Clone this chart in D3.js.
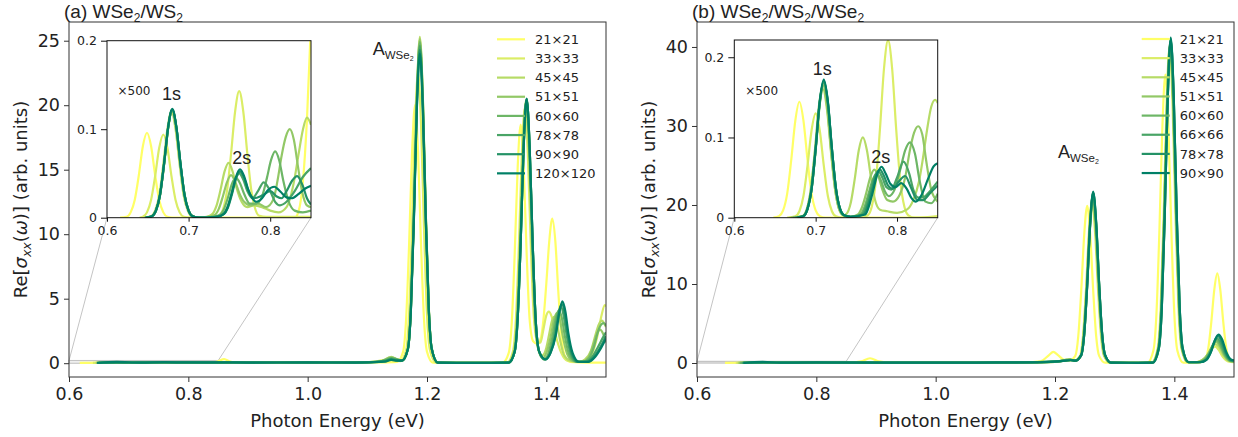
<!DOCTYPE html>
<html lang="en">
<head>
<meta charset="UTF-8">
<title>Re sigma_xx spectra</title>
<script src="https://cdn.jsdelivr.net/npm/d3@7"></script>
<style>
  body { margin: 0; background: #fff; }
  svg text { font-family: "DejaVu Sans", sans-serif; fill: #222; }
  svg .ann { font-family: "Liberation Sans", Arial, sans-serif; }
</style>
</head>
<body>
<svg width="1238" height="437"></svg>
<script>
// ---------- data ----------
var sizesA = ["21×21", "33×33", "45×45", "51×51", "60×60", "78×78", "90×90", "120×120"];
var sizesB = ["21×21", "33×33", "45×45", "51×51", "60×60", "66×66", "78×78", "90×90"];
var xTicks = [0.6, 0.8, 1.0, 1.2, 1.4];
var yTicksA = [0, 5, 10, 15, 20, 25];
var yTicksB = [0, 10, 20, 30, 40];
var insetXTicks = [0.6, 0.7, 0.8];
var insetYTicks = [0, 0.1, 0.2];

// panel (a) WSe2/WS2, main spectra [energy eV, Re sigma]
var a_21 = [[0.618,0.02],[0.70,0.04],[0.78,0.03],[0.84,0.05],[0.85,0.15],[0.86,0.32],[0.87,0.12],[0.88,0.04],[0.95,0.05],[1.05,0.04],[1.12,0.06],[1.15,0.1],
  [1.16,0.9],[1.165,3.4],[1.17,9.2],[1.175,16.4],[1.18,20],[1.185,16.4],[1.19,9.2],[1.195,3.4],[1.20,0.9],[1.21,0.05],[1.27,0.03],[1.32,0.04],
  [1.327,0.05],[1.337,0.8],[1.342,3.1],[1.347,8.5],[1.352,15.2],[1.357,18.5],[1.362,15.2],[1.367,8.5],[1.372,3.4],[1.378,1.7],[1.385,1.5],[1.39,1.8],
  [1.395,3.3],[1.40,6.2],[1.405,9.5],[1.41,11.2],[1.415,9.5],[1.42,5.6],[1.425,2.3],[1.43,0.7],[1.44,0.1],[1.47,0.05],[1.5,0.05]];
var a_33 = [[0.64,0.02],[0.70,0.06],[0.76,0.05],[0.82,0.07],[0.90,0.05],[1.0,0.06],[1.10,0.07],[1.14,0.3],[1.155,0.15],
  [1.165,1.0],[1.17,3.8],[1.175,10.4],[1.18,18.5],[1.185,22.5],[1.19,18.5],[1.195,10.4],[1.20,3.8],[1.205,1.0],[1.215,0.05],[1.28,0.03],
  [1.334,0.05],[1.344,0.9],[1.349,3.4],[1.354,9.1],[1.359,16.2],[1.364,19.8],[1.369,16.2],[1.374,9.1],[1.379,3.6],[1.385,1.6],[1.39,1.6],
  [1.395,2.6],[1.40,3.7],[1.404,4.0],[1.409,3.6],[1.415,2.3],[1.425,0.8],[1.435,0.2],[1.45,0.1],[1.465,0.2],[1.475,0.6],[1.485,2.0],[1.492,3.6],[1.498,4.5],[1.5,4.4]];
var a_45 = [[0.645,0.03],[0.70,0.06],[0.75,0.04],[0.80,0.07],[0.85,0.05],[0.95,0.06],[1.05,0.05],[1.12,0.1],[1.14,0.5],[1.15,0.3],[1.158,0.2],
  [1.168,1.1],[1.173,4.3],[1.178,11.6],[1.183,20.7],[1.188,25.3],[1.193,20.7],[1.198,11.6],[1.203,4.3],[1.208,1.1],[1.218,0.05],[1.28,0.02],
  [1.336,0.05],[1.346,0.9],[1.351,3.5],[1.356,9.3],[1.361,16.6],[1.366,20.3],[1.371,16.6],[1.376,9.3],[1.381,3.5],[1.387,1.0],[1.393,0.6],
  [1.40,1.2],[1.405,2.3],[1.409,3.2],[1.413,3.6],[1.418,3.0],[1.423,1.8],[1.43,0.6],[1.44,0.2],[1.455,0.1],[1.465,0.3],[1.475,1.0],[1.483,2.3],[1.488,3.0],[1.493,3.3],[1.498,3.0],[1.5,2.8]];
var a_51 = [[0.645,0.03],[0.71,0.07],[0.76,0.04],[0.81,0.06],[0.88,0.05],[0.97,0.06],[1.06,0.05],[1.12,0.1],[1.14,0.45],[1.15,0.3],[1.158,0.2],
  [1.168,1.1],[1.173,4.3],[1.178,11.5],[1.183,20.6],[1.188,25.1],[1.193,20.6],[1.198,11.5],[1.203,4.3],[1.208,1.1],[1.218,0.05],[1.28,0.02],
  [1.336,0.05],[1.346,0.9],[1.351,3.5],[1.356,9.4],[1.361,16.7],[1.366,20.4],[1.371,16.7],[1.376,9.4],[1.381,3.5],[1.387,1.0],[1.394,0.4],
  [1.40,0.8],[1.407,2.0],[1.413,3.4],[1.418,3.9],[1.423,3.3],[1.428,2.0],[1.435,0.7],[1.445,0.15],[1.46,0.1],[1.47,0.4],[1.478,1.3],[1.485,2.3],[1.49,2.6],[1.495,2.3],[1.5,1.6]];
var a_60 = [[0.648,0.03],[0.70,0.05],[0.76,0.06],[0.82,0.04],[0.90,0.06],[1.0,0.05],[1.08,0.06],[1.12,0.1],[1.14,0.4],[1.15,0.3],[1.158,0.2],
  [1.168,1.1],[1.173,4.2],[1.178,11.5],[1.183,20.4],[1.188,24.9],[1.193,20.4],[1.198,11.5],[1.203,4.2],[1.208,1.1],[1.218,0.05],[1.28,0.02],
  [1.337,0.05],[1.347,0.9],[1.352,3.5],[1.357,9.4],[1.362,16.7],[1.367,20.4],[1.372,16.7],[1.377,9.4],[1.382,3.5],[1.388,0.9],[1.396,0.3],
  [1.403,0.7],[1.41,2.0],[1.416,3.5],[1.421,4.1],[1.426,3.5],[1.431,2.1],[1.438,0.7],[1.448,0.15],[1.462,0.1],[1.472,0.4],[1.48,1.3],[1.487,2.5],[1.492,3.0],[1.496,3.1],[1.5,2.9]];
var a_78 = [[0.65,0.03],[0.72,0.07],[0.78,0.05],[0.84,0.07],[0.92,0.05],[1.02,0.06],[1.10,0.07],[1.13,0.2],[1.14,0.35],[1.15,0.25],[1.158,0.2],
  [1.168,1.1],[1.173,4.2],[1.178,11.3],[1.183,20.2],[1.188,24.6],[1.193,20.2],[1.198,11.3],[1.203,4.2],[1.208,1.1],[1.218,0.05],[1.28,0.02],
  [1.337,0.05],[1.347,0.9],[1.352,3.5],[1.357,9.4],[1.362,16.8],[1.367,20.5],[1.372,16.8],[1.377,9.4],[1.382,3.5],[1.388,0.9],[1.397,0.3],
  [1.405,0.7],[1.413,2.1],[1.419,3.7],[1.424,4.4],[1.429,3.7],[1.434,2.2],[1.441,0.7],[1.451,0.1],[1.465,0.1],[1.477,0.5],[1.487,1.3],[1.495,2.0],[1.5,2.4]];
var a_90 = [[0.65,0.03],[0.70,0.05],[0.77,0.07],[0.83,0.05],[0.91,0.06],[1.0,0.05],[1.09,0.06],[1.13,0.15],[1.14,0.3],[1.15,0.2],[1.158,0.2],
  [1.168,1.1],[1.173,4.1],[1.178,11.2],[1.183,19.9],[1.188,24.3],[1.193,19.9],[1.198,11.2],[1.203,4.1],[1.208,1.1],[1.218,0.05],[1.28,0.02],
  [1.337,0.05],[1.347,0.9],[1.352,3.5],[1.357,9.4],[1.362,16.8],[1.367,20.5],[1.372,16.8],[1.377,9.4],[1.382,3.5],[1.388,0.9],[1.398,0.3],
  [1.406,0.7],[1.415,2.1],[1.421,3.8],[1.426,4.6],[1.431,3.8],[1.436,2.2],[1.443,0.7],[1.453,0.1],[1.468,0.1],[1.48,0.5],[1.49,1.2],[1.5,2.1]];
var a_120 = [[0.647,0.03],[0.68,0.1],[0.72,0.05],[0.76,0.08],[0.80,0.06],[0.85,0.07],[0.90,0.05],[1.0,0.06],[1.08,0.05],[1.13,0.12],[1.14,0.25],[1.15,0.2],[1.158,0.2],
  [1.168,1.1],[1.173,4.1],[1.178,11.0],[1.183,19.7],[1.188,24.0],[1.193,19.7],[1.198,11.0],[1.203,4.1],[1.208,1.1],[1.218,0.05],[1.28,0.02],
  [1.337,0.05],[1.347,0.9],[1.352,3.5],[1.357,9.4],[1.362,16.8],[1.367,20.5],[1.372,16.8],[1.377,9.4],[1.382,3.5],[1.388,0.9],[1.399,0.3],
  [1.407,0.8],[1.416,2.2],[1.422,4.0],[1.427,4.8],[1.432,4.0],[1.437,2.3],[1.444,0.8],[1.455,0.1],[1.47,0.1],[1.482,0.5],[1.492,1.2],[1.5,1.9]];

// panel (a) inset, x500
var ai_21 = [[0.616,0],[0.624,0.001],[0.629,0.006],[0.634,0.02],[0.639,0.048],[0.644,0.081],[0.649,0.096],[0.654,0.081],[0.659,0.048],[0.664,0.02],[0.669,0.006],[0.674,0.001],[0.68,0],
  [0.83,0],[0.835,0.008],[0.84,0.04],[0.845,0.11],[0.85,0.22]];
var ai_33 = [[0.64,0],[0.644,0.001],[0.649,0.006],[0.654,0.02],[0.659,0.047],[0.664,0.079],[0.669,0.094],[0.674,0.079],[0.679,0.047],[0.684,0.02],[0.689,0.006],[0.694,0.001],[0.70,0],
  [0.73,0],[0.737,0.002],[0.742,0.009],[0.747,0.03],[0.752,0.072],[0.757,0.12],[0.762,0.143],[0.767,0.12],[0.772,0.072],[0.777,0.03],[0.782,0.009],[0.787,0.002],[0.795,0.001],[0.85,0.001]];
var ai_45 = [[0.645,0],[0.654,0.0016],[0.659,0.008],[0.664,0.025],[0.669,0.06],[0.674,0.1],[0.679,0.12],[0.684,0.1],[0.689,0.06],[0.694,0.025],[0.699,0.008],[0.704,0.0016],[0.712,0],
  [0.722,0.001],[0.729,0.004],[0.734,0.013],[0.739,0.031],[0.744,0.052],[0.749,0.062],[0.754,0.052],[0.759,0.033],[0.765,0.018],[0.772,0.012],[0.78,0.014],[0.79,0.012],[0.80,0.008],
  [0.81,0.006],[0.82,0.012],[0.825,0.024],[0.83,0.045],[0.835,0.073],[0.84,0.099],[0.845,0.113],[0.85,0.105]];
var ai_51 = [[0.646,0],[0.655,0.0016],[0.66,0.008],[0.665,0.025],[0.67,0.06],[0.675,0.101],[0.68,0.121],[0.685,0.101],[0.69,0.06],[0.695,0.025],[0.70,0.008],[0.705,0.0016],[0.713,0],
  [0.725,0.001],[0.732,0.003],[0.737,0.01],[0.742,0.024],[0.747,0.04],[0.752,0.048],[0.757,0.041],[0.762,0.028],[0.768,0.018],[0.776,0.014],[0.785,0.016],[0.795,0.012],
  [0.804,0.021],[0.809,0.042],[0.814,0.07],[0.819,0.091],[0.824,0.1],[0.829,0.088],[0.834,0.058],[0.839,0.03],[0.845,0.014],[0.85,0.012]];
var ai_60 = [[0.647,0],[0.655,0.0016],[0.66,0.008],[0.665,0.026],[0.67,0.061],[0.675,0.102],[0.68,0.122],[0.685,0.102],[0.69,0.061],[0.695,0.026],[0.70,0.008],[0.705,0.0016],[0.713,0],
  [0.73,0.001],[0.738,0.003],[0.743,0.009],[0.748,0.022],[0.753,0.038],[0.758,0.045],[0.763,0.039],[0.768,0.027],[0.775,0.016],[0.783,0.016],[0.79,0.024],[0.796,0.045],
  [0.801,0.065],[0.806,0.075],[0.811,0.065],[0.816,0.042],[0.822,0.02],[0.83,0.008],[0.84,0.006],[0.85,0.008]];
var ai_78 = [[0.648,0],[0.655,0.0016],[0.66,0.008],[0.665,0.026],[0.67,0.061],[0.675,0.102],[0.68,0.122],[0.685,0.102],[0.69,0.061],[0.695,0.026],[0.70,0.008],[0.705,0.0016],[0.713,0],
  [0.733,0.001],[0.742,0.004],[0.747,0.011],[0.752,0.025],[0.757,0.042],[0.762,0.05],[0.767,0.043],[0.772,0.03],[0.778,0.022],[0.785,0.03],[0.792,0.04],[0.799,0.032],
  [0.806,0.018],[0.812,0.014],[0.82,0.018],[0.83,0.03],[0.84,0.046],[0.85,0.056]];
var ai_90 = [[0.65,0],[0.655,0.0016],[0.66,0.008],[0.665,0.026],[0.67,0.061],[0.675,0.102],[0.68,0.122],[0.685,0.102],[0.69,0.061],[0.695,0.026],[0.70,0.008],[0.705,0.0016],[0.713,0],
  [0.734,0.001],[0.743,0.004],[0.748,0.011],[0.753,0.026],[0.758,0.044],[0.763,0.052],[0.768,0.045],[0.773,0.031],[0.78,0.022],[0.79,0.025],[0.80,0.03],[0.808,0.024],
  [0.814,0.022],[0.82,0.03],[0.827,0.042],[0.833,0.047],[0.84,0.036],[0.845,0.022],[0.85,0.015]];
var ai_120 = [[0.647,0],[0.655,0.0016],[0.66,0.008],[0.665,0.026],[0.67,0.062],[0.675,0.103],[0.68,0.123],[0.685,0.103],[0.69,0.062],[0.695,0.026],[0.70,0.008],[0.705,0.0016],[0.713,0],
  [0.735,0.001],[0.743,0.004],[0.748,0.012],[0.753,0.028],[0.758,0.046],[0.763,0.0546],[0.768,0.047],[0.773,0.032],[0.778,0.022],[0.783,0.018],[0.79,0.022],[0.797,0.031],
  [0.805,0.035],[0.813,0.029],[0.82,0.023],[0.826,0.022],[0.835,0.027],[0.843,0.033],[0.85,0.036]];

// panel (b) WSe2/WS2/WSe2, main spectra
var b_21 = [[0.647,0.02],[0.70,0.04],[0.78,0.03],[0.86,0.05],[0.875,0.2],[0.89,0.6],[0.905,0.2],[0.92,0.05],[1.0,0.04],[1.08,0.05],[1.15,0.08],[1.175,0.2],
  [1.19,1.0],[1.197,1.4],[1.205,1.0],[1.215,0.4],[1.224,0.3],
  [1.234,0.9],[1.239,3.4],[1.244,9.2],[1.249,16.3],[1.254,19.9],[1.259,16.3],[1.264,9.2],[1.269,3.4],[1.274,0.9],[1.284,0.05],[1.33,0.03],
  [1.355,0.05],[1.365,1.6],[1.37,6.2],[1.375,16.8],[1.38,29.9],[1.385,36.5],[1.39,29.9],[1.395,16.8],[1.40,6.2],[1.405,1.6],[1.415,0.05],[1.44,0.05],
  [1.452,0.5],[1.457,1.9],[1.462,5.2],[1.467,9.3],[1.472,11.35],[1.477,9.3],[1.482,5.2],[1.487,1.9],[1.492,0.5],[1.5,0.1]];
var b_33 = [[0.665,0.02],[0.72,0.05],[0.80,0.04],[0.88,0.06],[0.96,0.05],[1.05,0.06],[1.14,0.07],[1.20,0.15],[1.225,0.4],[1.232,0.3],
  [1.242,0.9],[1.247,3.5],[1.252,9.4],[1.257,16.7],[1.262,20.4],[1.267,16.7],[1.272,9.4],[1.277,3.5],[1.282,0.9],[1.292,0.05],[1.34,0.03],
  [1.362,0.05],[1.372,1.8],[1.377,6.8],[1.382,18.4],[1.387,32.8],[1.392,40.0],[1.397,32.8],[1.402,18.4],[1.407,6.8],[1.412,1.8],[1.422,0.1],
  [1.435,0.1],[1.445,0.3],[1.455,0.9],[1.462,1.7],[1.468,2.1],[1.474,1.7],[1.481,0.8],[1.49,0.2],[1.5,0.1]];
var b_45 = [[0.668,0.02],[0.72,0.06],[0.79,0.04],[0.87,0.05],[0.95,0.06],[1.04,0.05],[1.13,0.07],[1.20,0.15],[1.225,0.45],[1.233,0.3],
  [1.243,0.9],[1.248,3.5],[1.253,9.5],[1.258,17.0],[1.263,20.7],[1.268,17.0],[1.273,9.5],[1.278,3.5],[1.283,0.9],[1.293,0.05],[1.34,0.03],
  [1.363,0.05],[1.373,1.8],[1.378,6.8],[1.383,18.5],[1.388,33.0],[1.393,40.2],[1.398,33.0],[1.403,18.5],[1.408,6.8],[1.413,1.8],[1.423,0.1],
  [1.437,0.1],[1.447,0.4],[1.456,1.1],[1.463,2.0],[1.469,2.4],[1.475,2.0],[1.482,1.0],[1.491,0.3],[1.5,0.15]];
var b_51 = [[0.67,0.02],[0.73,0.05],[0.80,0.06],[0.88,0.04],[0.97,0.06],[1.06,0.05],[1.14,0.08],[1.20,0.15],[1.225,0.45],[1.233,0.3],
  [1.243,0.9],[1.248,3.6],[1.253,9.7],[1.258,17.2],[1.263,21.0],[1.268,17.2],[1.273,9.7],[1.278,3.6],[1.283,0.9],[1.293,0.05],[1.34,0.03],
  [1.363,0.05],[1.373,1.8],[1.378,6.9],[1.383,18.6],[1.388,33.1],[1.393,40.4],[1.398,33.1],[1.403,18.6],[1.408,6.9],[1.413,1.8],[1.423,0.1],
  [1.438,0.1],[1.448,0.4],[1.457,1.2],[1.464,2.2],[1.47,2.7],[1.476,2.2],[1.483,1.1],[1.492,0.3],[1.5,0.2]];
var b_60 = [[0.672,0.02],[0.74,0.06],[0.81,0.04],[0.89,0.06],[0.98,0.05],[1.07,0.06],[1.15,0.08],[1.205,0.2],[1.226,0.4],[1.234,0.3],
  [1.244,1.0],[1.249,3.6],[1.254,9.8],[1.259,17.4],[1.264,21.2],[1.269,17.4],[1.274,9.8],[1.279,3.6],[1.284,1.0],[1.294,0.05],[1.34,0.03],
  [1.363,0.05],[1.373,1.8],[1.378,6.9],[1.383,18.7],[1.388,33.3],[1.393,40.6],[1.398,33.3],[1.403,18.7],[1.408,6.9],[1.413,1.8],[1.423,0.1],
  [1.44,0.1],[1.45,0.4],[1.458,1.2],[1.465,2.3],[1.471,2.9],[1.477,2.3],[1.484,1.1],[1.493,0.3],[1.5,0.2]];
var b_66 = [[0.675,0.02],[0.73,0.05],[0.80,0.07],[0.87,0.05],[0.96,0.06],[1.05,0.05],[1.14,0.07],[1.205,0.2],[1.226,0.4],[1.234,0.3],
  [1.244,1.0],[1.249,3.7],[1.254,9.9],[1.259,17.6],[1.264,21.5],[1.269,17.6],[1.274,9.9],[1.279,3.7],[1.284,1.0],[1.294,0.05],[1.34,0.03],
  [1.364,0.05],[1.374,1.8],[1.379,6.9],[1.384,18.8],[1.389,33.5],[1.394,40.8],[1.399,33.5],[1.404,18.8],[1.409,6.9],[1.414,1.8],[1.424,0.1],
  [1.442,0.1],[1.452,0.4],[1.46,1.3],[1.466,2.5],[1.472,3.1],[1.478,2.5],[1.485,1.2],[1.494,0.3],[1.5,0.25]];
var b_78 = [[0.677,0.02],[0.72,0.06],[0.79,0.05],[0.86,0.07],[0.95,0.05],[1.04,0.06],[1.13,0.06],[1.205,0.2],[1.226,0.35],[1.234,0.3],
  [1.244,1.0],[1.249,3.7],[1.254,9.9],[1.259,17.7],[1.264,21.6],[1.269,17.7],[1.274,9.9],[1.279,3.7],[1.284,1.0],[1.294,0.05],[1.34,0.03],
  [1.364,0.05],[1.374,1.8],[1.379,7.0],[1.384,18.9],[1.389,33.6],[1.394,41.0],[1.399,33.6],[1.404,18.9],[1.409,7.0],[1.414,1.8],[1.424,0.1],
  [1.443,0.1],[1.453,0.4],[1.461,1.4],[1.467,2.7],[1.473,3.4],[1.479,2.8],[1.486,1.3],[1.495,0.35],[1.5,0.3]];
var b_90 = [[0.678,0.02],[0.71,0.15],[0.74,0.04],[0.80,0.07],[0.86,0.05],[0.93,0.06],[1.02,0.05],[1.10,0.07],[1.17,0.08],[1.205,0.2],[1.226,0.35],[1.234,0.3],
  [1.244,1.0],[1.249,3.7],[1.254,10.0],[1.259,17.8],[1.264,21.7],[1.269,17.8],[1.274,10.0],[1.279,3.7],[1.284,1.0],[1.294,0.05],[1.34,0.03],
  [1.364,0.05],[1.374,1.9],[1.379,7.0],[1.384,19.0],[1.389,33.8],[1.394,41.2],[1.399,33.8],[1.404,19.0],[1.409,7.0],[1.414,1.9],[1.424,0.1],
  [1.444,0.1],[1.454,0.4],[1.462,1.5],[1.468,2.9],[1.474,3.6],[1.48,3.0],[1.487,1.4],[1.496,0.4],[1.5,0.35]];

// panel (b) inset, x500
var bi_21 = [[0.648,0],[0.655,0.002],[0.66,0.009],[0.665,0.03],[0.67,0.072],[0.675,0.121],[0.68,0.1445],[0.685,0.121],[0.69,0.072],[0.695,0.03],[0.70,0.009],[0.705,0.002],[0.712,0],[0.85,0]];
var bi_33 = [[0.665,0],[0.675,0.0017],[0.68,0.008],[0.685,0.027],[0.69,0.065],[0.695,0.109],[0.70,0.13],[0.705,0.109],[0.71,0.065],[0.715,0.027],[0.72,0.008],[0.725,0.0017],[0.733,0],
  [0.755,0],[0.764,0.003],[0.769,0.014],[0.774,0.046],[0.779,0.11],[0.784,0.186],[0.789,0.221],[0.794,0.186],[0.799,0.11],[0.804,0.046],[0.809,0.014],[0.814,0.003],[0.822,0],[0.85,0.002]];
var bi_45 = [[0.668,0],[0.684,0.002],[0.689,0.01],[0.694,0.034],[0.699,0.08],[0.704,0.134],[0.709,0.16],[0.714,0.134],[0.719,0.08],[0.724,0.034],[0.729,0.01],[0.734,0.003],
  [0.738,0.005],[0.743,0.018],[0.748,0.048],[0.753,0.084],[0.758,0.1],[0.763,0.084],[0.768,0.05],[0.773,0.022],[0.779,0.01],[0.788,0.008],[0.80,0.006],[0.812,0.01],
  [0.82,0.022],[0.827,0.045],[0.832,0.075],[0.837,0.11],[0.842,0.138],[0.847,0.147],[0.85,0.143]];
var bi_51 = [[0.67,0],[0.684,0.002],[0.689,0.01],[0.694,0.035],[0.699,0.083],[0.704,0.139],[0.709,0.165],[0.714,0.139],[0.719,0.083],[0.724,0.035],[0.729,0.01],[0.734,0.003],[0.742,0.001],
  [0.752,0.004],[0.757,0.013],[0.762,0.03],[0.767,0.05],[0.772,0.06],[0.777,0.052],[0.782,0.035],[0.788,0.022],[0.795,0.02],[0.803,0.028],[0.81,0.05],[0.816,0.085],
  [0.821,0.106],[0.826,0.114],[0.831,0.104],[0.836,0.07],[0.842,0.035],[0.85,0.02]];
var bi_60 = [[0.672,0],[0.685,0.002],[0.69,0.011],[0.695,0.035],[0.70,0.084],[0.705,0.141],[0.71,0.168],[0.715,0.141],[0.72,0.084],[0.725,0.035],[0.73,0.011],[0.735,0.003],[0.743,0.001],
  [0.755,0.004],[0.76,0.013],[0.765,0.03],[0.77,0.047],[0.775,0.055],[0.78,0.047],[0.785,0.033],[0.79,0.027],[0.797,0.035],[0.804,0.06],[0.81,0.084],[0.816,0.094],
  [0.822,0.08],[0.828,0.045],[0.835,0.02],[0.842,0.018],[0.85,0.03]];
var bi_66 = [[0.675,0],[0.685,0.002],[0.69,0.011],[0.695,0.036],[0.70,0.085],[0.705,0.143],[0.71,0.17],[0.715,0.143],[0.72,0.085],[0.725,0.036],[0.73,0.011],[0.735,0.003],[0.743,0.001],
  [0.757,0.004],[0.762,0.014],[0.767,0.032],[0.772,0.05],[0.777,0.058],[0.782,0.05],[0.787,0.038],[0.793,0.035],[0.80,0.05],[0.808,0.07],[0.815,0.055],[0.82,0.035],
  [0.826,0.025],[0.833,0.026],[0.842,0.035],[0.85,0.045]];
var bi_78 = [[0.677,0],[0.685,0.002],[0.69,0.011],[0.695,0.036],[0.70,0.086],[0.705,0.144],[0.71,0.171],[0.715,0.144],[0.72,0.086],[0.725,0.036],[0.73,0.011],[0.735,0.003],[0.743,0.001],
  [0.759,0.004],[0.764,0.015],[0.769,0.033],[0.774,0.052],[0.779,0.06],[0.784,0.052],[0.789,0.04],[0.795,0.036],[0.802,0.045],[0.81,0.052],[0.817,0.038],[0.825,0.022],
  [0.832,0.022],[0.84,0.03],[0.85,0.04]];
var bi_90 = [[0.678,0],[0.685,0.002],[0.69,0.011],[0.695,0.036],[0.70,0.086],[0.705,0.145],[0.71,0.172],[0.715,0.145],[0.72,0.086],[0.725,0.036],[0.73,0.011],[0.735,0.003],[0.743,0.001],
  [0.761,0.004],[0.766,0.016],[0.771,0.035],[0.776,0.055],[0.781,0.0635],[0.786,0.055],[0.792,0.042],[0.798,0.038],[0.805,0.043],[0.812,0.036],[0.818,0.024],[0.823,0.02],
  [0.83,0.028],[0.838,0.048],[0.845,0.064],[0.85,0.068]];

// ---------- drawing ----------
var svg = d3.select('svg');
svg.append('rect').attr('width', 1238).attr('height', 437).attr('fill', '#fff');

// summer_r colours: yellow -> dark green
var colors = d3.range(8).map(function (i) {
    var t = 1 - i / 7;
    return d3.rgb(255 * t, 255 * (0.5 + 0.5 * t), 102).formatHex();
});

var fmt1 = d3.format('.1f');

function drawPanel(p) {
    var top = 22, bottom = 377;
    var x = d3.scaleLinear().domain([0.6, 1.5]).range([p.left, p.right]);
    var y = d3.scaleLinear().domain(p.yDomain).range([bottom, top]);
    var g = svg.append('g');

    g.append('clipPath').attr('id', p.id + '-clip')
        .append('rect').attr('x', p.left).attr('y', top)
        .attr('width', p.right - p.left).attr('height', bottom - top);

    // zoomed region marker + connectors
    var ix = d3.scaleLinear().domain([0.6, 0.85]).range(p.insetX);
    var iy = d3.scaleLinear().domain(p.insetY).range([p.insetBottom, p.insetTop]);
    g.append('rect')
        .attr('x', x(0.6)).attr('y', y(0.2))
        .attr('width', x(0.85) - x(0.6)).attr('height', y(0) - y(0.2))
        .attr('fill', 'none').attr('stroke', '#c4c4c4').attr('stroke-width', 1.3);
    [0.6, 0.85].forEach(function (e) {
        g.append('line')
            .attr('x1', ix(e)).attr('y1', iy(0))
            .attr('x2', x(e)).attr('y2', y(0.2))
            .attr('stroke', '#c4c4c4').attr('stroke-width', 1);
    });

    var line = d3.line().x(function (d) { return x(d[0]); })
        .y(function (d) { return y(d[1]); }).curve(d3.curveMonotoneX);

    g.append('g').attr('clip-path', 'url(#' + p.id + '-clip)')
        .selectAll('path').data(p.main).enter().append('path')
        .attr('d', line)
        .attr('fill', 'none')
        .attr('stroke', function (d, i) { return colors[i]; })
        .attr('stroke-width', 2.2)
        .attr('stroke-linejoin', 'round');

    // legend
    var lg = g.append('g');
    p.names.forEach(function (n, i) {
        var yy = p.legY + i * 19.15;
        lg.append('line').attr('x1', p.legX).attr('x2', p.legX + 28)
            .attr('y1', yy).attr('y2', yy)
            .attr('stroke', colors[i]).attr('stroke-width', 2.2);
        lg.append('text').attr('x', p.legX + 38).attr('y', yy).attr('dy', '0.36em')
            .attr('font-size', 13).text(n);
    });

    // frame + axes
    g.append('rect').attr('x', p.left).attr('y', top)
        .attr('width', p.right - p.left).attr('height', bottom - top)
        .attr('fill', 'none').attr('stroke', '#333').attr('stroke-width', 1);

    var xa = g.append('g').attr('transform', 'translate(0,' + bottom + ')')
        .call(d3.axisBottom(x).tickValues(xTicks).tickFormat(fmt1).tickSize(5).tickPadding(6));
    var ya = g.append('g').attr('transform', 'translate(' + p.left + ',0)')
        .call(d3.axisLeft(y).tickValues(p.yTicks).tickFormat(d3.format('d')).tickSize(5).tickPadding(4));
    [xa, ya].forEach(function (a) {
        a.select('.domain').remove();
        a.selectAll('line').attr('stroke', '#333');
        a.selectAll('text').attr('font-size', 17.5).attr('font-family', 'DejaVu Sans').attr('fill', '#222');
    });

    g.append('text').attr('x', (p.left + p.right) / 2).attr('y', 427)
        .attr('text-anchor', 'middle').attr('font-size', 18).text('Photon Energy (eV)');

    var yl = g.append('text')
        .attr('transform', 'translate(' + (p.left - 42) + ',' + ((top + bottom) / 2) + ') rotate(-90)')
        .attr('text-anchor', 'middle').attr('font-size', 18);
    yl.append('tspan').text('Re[');
    yl.append('tspan').attr('font-style', 'italic').text('σ');
    yl.append('tspan').attr('font-style', 'italic').attr('font-size', 12.5).attr('dy', 4).text('xx');
    yl.append('tspan').attr('dy', -4).text('(');
    yl.append('tspan').attr('font-style', 'italic').text('ω');
    yl.append('tspan').text(')] (arb. units)');

    // title
    var tt = g.append('text').attr('class', 'ann').attr('x', p.left - 5).attr('y', 18).attr('font-size', 19);
    p.title.forEach(function (q) {
        var s = tt.append('tspan').text(q[0]);
        if (q[1] === 's') s.attr('font-size', 12).attr('dy', 4);
        if (q[1] === 'b') s.attr('dy', -4);
    });

    // A_WSe2 label
    var al = g.append('text').attr('class', 'ann')
        .attr('x', x(p.aLabel[0])).attr('y', y(p.aLabel[1])).attr('font-size', 18);
    al.append('tspan').text('A');
    al.append('tspan').attr('font-size', 11.5).attr('dy', 4).text('WSe');
    al.append('tspan').attr('font-size', 7).attr('dy', 2).text('2');

    // inset
    var ig = g.append('g');
    ig.append('rect').attr('x', p.insetX[0]).attr('y', p.insetTop)
        .attr('width', p.insetX[1] - p.insetX[0]).attr('height', p.insetBottom - p.insetTop)
        .attr('fill', '#fff');
    ig.append('clipPath').attr('id', p.id + '-iclip')
        .append('rect').attr('x', p.insetX[0]).attr('y', p.insetTop)
        .attr('width', p.insetX[1] - p.insetX[0]).attr('height', p.insetBottom - p.insetTop);
    var iline = d3.line().x(function (d) { return ix(d[0]); })
        .y(function (d) { return iy(d[1]); }).curve(d3.curveMonotoneX);
    ig.append('g').attr('clip-path', 'url(#' + p.id + '-iclip)')
        .selectAll('path').data(p.inset).enter().append('path')
        .attr('d', iline).attr('fill', 'none')
        .attr('stroke', function (d, i) { return colors[i]; })
        .attr('stroke-width', 2.2).attr('stroke-linejoin', 'round');
    ig.append('rect').attr('x', p.insetX[0]).attr('y', p.insetTop)
        .attr('width', p.insetX[1] - p.insetX[0]).attr('height', p.insetBottom - p.insetTop)
        .attr('fill', 'none').attr('stroke', '#111').attr('stroke-width', 1);
    var ixa = ig.append('g').attr('transform', 'translate(0,' + p.insetBottom + ')')
        .call(d3.axisBottom(ix).tickValues(insetXTicks).tickFormat(fmt1).tickSize(4).tickPadding(4));
    var iya = ig.append('g').attr('transform', 'translate(' + p.insetX[0] + ',0)')
        .call(d3.axisLeft(iy).tickValues(insetYTicks)
            .tickFormat(function (d) { return d === 0 ? '0' : fmt1(d); }).tickSize(6).tickPadding(4));
    [ixa, iya].forEach(function (a) {
        a.select('.domain').remove();
        a.selectAll('line').attr('stroke', '#111');
        a.selectAll('text').attr('font-size', 12.5).attr('font-family', 'DejaVu Sans').attr('fill', '#222');
    });

    ig.append('text').attr('x', ix(p.x500[0])).attr('y', iy(p.x500[1])).attr('dy', '0.35em')
        .attr('text-anchor', 'middle').attr('font-size', 12).text('×500');
    ig.append('text').attr('class', 'ann').attr('x', ix(p.s1[0])).attr('y', iy(p.s1[1])).attr('dy', '0.36em')
        .attr('text-anchor', 'middle').attr('font-size', 18).text('1s');
    ig.append('text').attr('class', 'ann').attr('x', ix(p.s2[0])).attr('y', iy(p.s2[1])).attr('dy', '0.36em')
        .attr('text-anchor', 'middle').attr('font-size', 18).text('2s');
}

drawPanel({
    id: 'pa', left: 69, right: 606, yDomain: [-1.07, 26.45], yTicks: yTicksA,
    main: [a_21, a_33, a_45, a_51, a_60, a_78, a_90, a_120],
    inset: [ai_21, ai_33, ai_45, ai_51, ai_60, ai_78, ai_90, ai_120],
    names: sizesA, legX: 497, legY: 39.3,
    insetX: [107, 311], insetY: [0, 0.2], insetTop: 40.7, insetBottom: 217.7,
    title: [['(a)  WSe', 'n'], ['2', 's'], ['/WS', 'b'], ['2', 's']],
    aLabel: [1.109, 23.9], x500: [0.633, 0.1435], s1: [0.679, 0.1405], s2: [0.765, 0.068]
});

drawPanel({
    id: 'pb', left: 697, right: 1234, yDomain: [-1.77, 43.16], yTicks: yTicksB,
    main: [b_21, b_33, b_45, b_51, b_60, b_66, b_78, b_90],
    inset: [bi_21, bi_33, bi_45, bi_51, bi_60, bi_66, bi_78, bi_90],
    names: sizesB, legX: 1141.7, legY: 39,
    insetX: [734.3, 937.7], insetY: [0, 0.2215], insetTop: 40, insetBottom: 217.7,
    title: [['(b)  WSe', 'n'], ['2', 's'], ['/WS', 'b'], ['2', 's'], ['/WSe', 'b'], ['2', 's']],
    aLabel: [1.205, 25.9], x500: [0.6336, 0.158], s1: [0.708, 0.186], s2: [0.78, 0.076]
});
</script>
</body>
</html>
